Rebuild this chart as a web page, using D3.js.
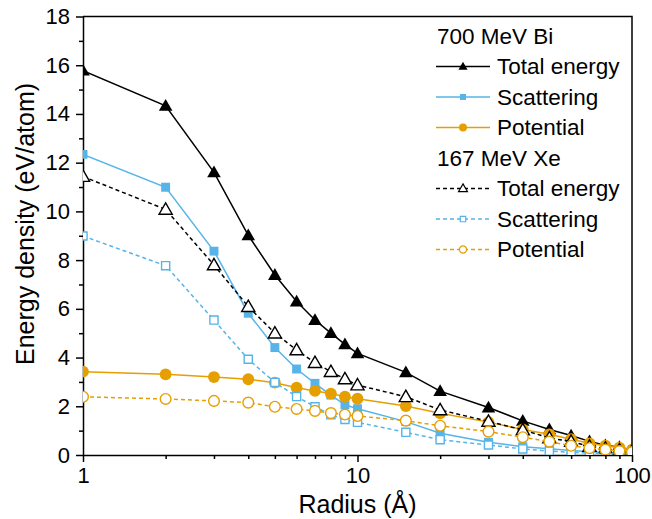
<!DOCTYPE html>
<html>
<head>
<meta charset="utf-8">
<script src="https://cdn.jsdelivr.net/npm/d3@7"></script>
<style>
  body { margin: 0; background: #fff; }
  text { font-family: "Liberation Sans", Arial, sans-serif; }
</style>
</head>
<body>
<div id="chart"></div>
<script>
// radius values (Å)
const radius = [1, 2, 3, 4, 5, 6, 7, 8, 9, 10, 15, 20, 30, 40, 50, 60, 70, 80, 90, 100];

// 700 MeV Bi
const biTotal   = [15.78, 14.33, 11.6, 9.02, 7.39, 6.3, 5.54, 5.0, 4.54, 4.17, 3.39, 2.62, 1.95, 1.4, 1.05, 0.8, 0.56, 0.4, 0.32, 0.2];
const biScatter = [12.34, 10.99, 8.37, 5.82, 4.41, 3.53, 2.94, 2.46, 2.06, 1.9, 1.37, 0.89, 0.52, 0.34, 0.26, 0.18, 0.13, 0.1, 0.08, 0.06];
const biPot     = [3.42, 3.31, 3.2, 3.11, 2.97, 2.76, 2.63, 2.52, 2.39, 2.31, 2.01, 1.71, 1.35, 1.05, 0.85, 0.65, 0.48, 0.38, 0.3, 0.22];

// 167 MeV Xe
const xeTotal   = [11.43, 10.08, 7.8, 6.09, 5.0, 4.31, 3.79, 3.42, 3.12, 2.87, 2.39, 1.85, 1.38, 1.03, 0.7, 0.55, 0.35, 0.27, 0.2, 0.15];
const xeScatter = [8.99, 7.77, 5.54, 3.93, 2.98, 2.4, 1.98, 1.65, 1.46, 1.34, 0.93, 0.63, 0.41, 0.25, 0.16, 0.11, 0.08, 0.06, 0.05, 0.04];
const xePot     = [2.39, 2.3, 2.22, 2.15, 1.98, 1.89, 1.81, 1.72, 1.66, 1.6, 1.41, 1.2, 0.96, 0.73, 0.55, 0.38, 0.28, 0.22, 0.16, 0.12];

const xMajor = [1, 10, 100];
const xMinor = [2, 3, 4, 5, 6, 7, 8, 9, 20, 30, 40, 50, 60, 70, 80, 90];
const yMajor = [0, 2, 4, 6, 8, 10, 12, 14, 16, 18];
const yMinor = [1, 3, 5, 7, 9, 11, 13, 15, 17];

const black = "#000000", blue = "#56B4E9", orange = "#E69F00";

const series = [
  {name: "Total energy", values: biTotal,   color: black,  dash: null,  sym: d3.symbolTriangle, size: 80, open: false},
  {name: "Scattering",   values: biScatter, color: blue,   dash: null,  sym: d3.symbolSquare,   size: 80, open: false},
  {name: "Potential",    values: biPot,     color: orange, dash: null,  sym: d3.symbolCircle,   size: 110, open: false},
  {name: "Total energy", values: xeTotal,   color: black,  dash: "4,3", sym: d3.symbolTriangle, size: 75, open: true},
  {name: "Scattering",   values: xeScatter, color: blue,   dash: "4,3", sym: d3.symbolSquare,   size: 66, open: true},
  {name: "Potential",    values: xePot,     color: orange, dash: "4,3", sym: d3.symbolCircle,   size: 90, open: true}
];

const width = 652, height = 519;
const margin = {top: 16.5, right: 20, bottom: 64, left: 83};

const svg = d3.select("#chart").append("svg")
  .attr("width", width)
  .attr("height", height);

const x = d3.scaleLog().domain([1, 100]).range([margin.left, width - margin.right]);
const y = d3.scaleLinear().domain([0, 18]).range([height - margin.bottom, margin.top]);

svg.append("defs").append("clipPath").attr("id", "clip")
  .append("rect")
  .attr("x", margin.left).attr("y", margin.top)
  .attr("width", x(100) - x(1)).attr("height", y(0) - y(18));

// frame top + right
svg.append("path")
  .attr("d", `M${x(1)},${y(18)}H${x(100)}V${y(0)}`)
  .attr("fill", "none").attr("stroke", "#000").attr("stroke-width", 1.5);

// axes
const gx = svg.append("g").attr("transform", `translate(0,${y(0)})`);
gx.call(d3.axisBottom(x).tickValues(xMajor).tickFormat(d3.format("d")).tickSize(7).tickPadding(5).tickSizeOuter(0));
gx.append("g").call(d3.axisBottom(x).tickValues(xMinor).tickFormat("").tickSize(4).tickSizeOuter(0))
  .select(".domain").remove();

const gy = svg.append("g").attr("transform", `translate(${x(1)},0)`);
gy.call(d3.axisLeft(y).tickValues(yMajor).tickSize(7).tickPadding(6).tickSizeOuter(0));
gy.append("g").call(d3.axisLeft(y).tickValues(yMinor).tickFormat("").tickSize(4).tickSizeOuter(0))
  .select(".domain").remove();

svg.selectAll(".domain").attr("stroke-width", 1.5);
svg.selectAll(".tick line").attr("stroke-width", 1.5);
svg.selectAll(".tick text").attr("font-size", 22).attr("fill", "#000")
  .style("font-family", "'Liberation Sans', Arial, sans-serif");

// axis titles
svg.append("text")
  .attr("x", (x(1) + x(100)) / 2).attr("y", 513)
  .attr("text-anchor", "middle").attr("font-size", 25)
  .text("Radius (Å)");

svg.append("text")
  .attr("transform", `translate(34,224) rotate(-90)`)
  .attr("text-anchor", "middle").attr("font-size", 25)
  .text("Energy density (eV/atom)");

// data
const plot = svg.append("g").attr("clip-path", "url(#clip)");
const line = d3.line().x((d, i) => x(radius[i])).y(d => y(d));

series.forEach(s => {
  const g = plot.append("g");
  g.append("path")
    .attr("d", line(s.values))
    .attr("fill", "none")
    .attr("stroke", s.color)
    .attr("stroke-width", 1.5)
    .attr("stroke-dasharray", s.dash);
  g.selectAll("path.m")
    .data(s.values)
    .enter()
    .append("path")
      .attr("class", "m")
      .attr("d", d3.symbol().type(s.sym).size(s.size))
      .attr("transform", (d, i) => {
        const dy = s.sym === d3.symbolTriangle ? 1 : 0;
        return `translate(${x(radius[i])},${y(d) + dy})`;
      })
      .attr("fill", s.open ? "#fff" : s.color)
      .attr("stroke", s.color)
      .attr("stroke-width", s.open ? 1.4 : 0);
});

// legend
const lg = svg.append("g");
const rowY = [43.5, 74, 104.5, 135, 165.5, 196, 226.5, 257];
lg.append("text").attr("x", 437).attr("y", rowY[0]).attr("font-size", 22.5).text("700 MeV Bi");
lg.append("text").attr("x", 437).attr("y", rowY[4]).attr("font-size", 22.5).text("167 MeV Xe");
const legendRows = [1, 2, 3, 5, 6, 7];
series.forEach((s, k) => {
  const by = rowY[legendRows[k]];
  const cy = by - 7.5;
  lg.append("line")
    .attr("x1", 436).attr("x2", 490).attr("y1", cy).attr("y2", cy)
    .attr("stroke", s.color).attr("stroke-width", 1.5)
    .attr("stroke-dasharray", s.dash);
  lg.append("path")
    .attr("d", d3.symbol().type(s.sym).size(s.size * 0.45))
    .attr("transform", `translate(463,${cy + (s.sym === d3.symbolTriangle ? 0.5 : 0)})`)
    .attr("fill", s.open ? "#fff" : s.color)
    .attr("stroke", s.color)
    .attr("stroke-width", s.open ? 1.2 : 0);
  lg.append("text").attr("x", 497).attr("y", by).attr("font-size", 22.5).text(s.name);
});
</script>
</body>
</html>
